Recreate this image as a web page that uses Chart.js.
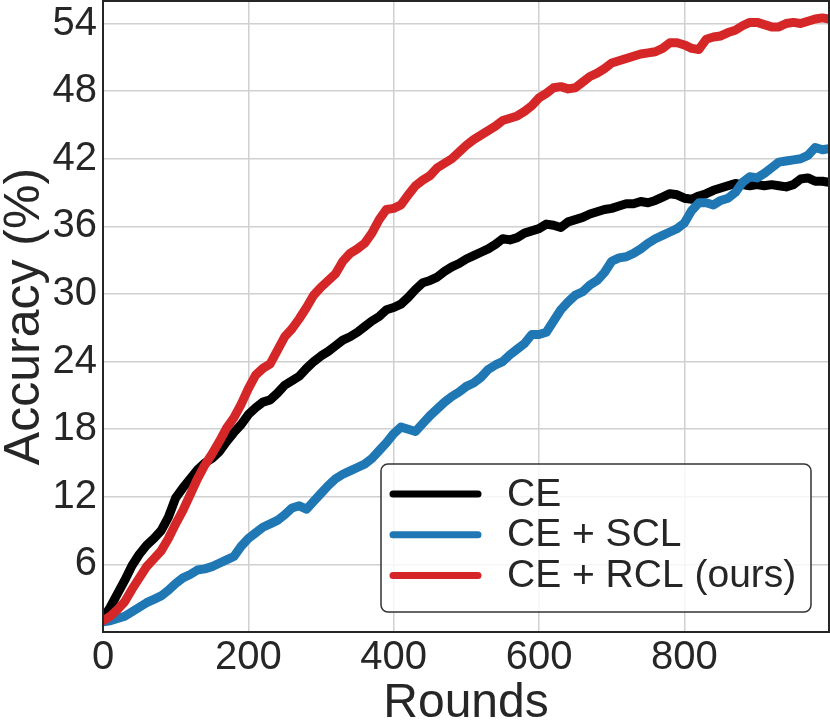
<!DOCTYPE html>
<html>
<head>
    <meta charset="UTF-8" />
    <title>Accuracy vs Rounds</title>
    <script src="https://cdn.jsdelivr.net/npm/chart.js"></script>
    <style>
        * { margin: 0; padding: 0; box-sizing: border-box; }
        body { background: #fff; }
        .chart-box { width: 830px; height: 728px; position: relative; }
    </style>
</head>
<body>

<div class="chart-box">
    <canvas id="accChart"></canvas>
</div>

<script>
    const rounds = [
        0, 10, 20, 30, 40, 50, 60, 70, 80, 90,
        100, 110, 120, 130, 140, 150, 160, 170, 180, 190,
        200, 210, 220, 230, 240, 250, 260, 270, 280, 290,
        300, 310, 320, 330, 340, 350, 360, 370, 380, 390,
        400, 410, 420, 430, 440, 450, 460, 470, 480, 490,
        500, 510, 520, 530, 540, 550, 560, 570, 580, 590,
        600, 610, 620, 630, 640, 650, 660, 670, 680, 690,
        700, 710, 720, 730, 740, 750, 760, 770, 780, 790,
        800, 810, 820, 830, 840, 850, 860, 870, 880, 890,
        900, 910, 920, 930, 940, 950, 960, 970, 980, 990, 999
    ];

    const ceAcc = [
        1.2, 2.2, 3.4, 4.6, 5.9, 6.9, 7.7, 8.3, 9.0, 10.2,
        11.9, 12.8, 13.6, 14.4, 15.0, 15.4, 16.0, 16.9, 17.7, 18.4,
        19.3, 19.9, 20.4, 20.6, 21.2, 21.9, 22.3, 22.7, 23.4, 24.0,
        24.5, 24.9, 25.4, 25.9, 26.2, 26.6, 27.1, 27.6, 28.0, 28.6,
        28.8, 29.1, 29.7, 30.4, 31.0, 31.2, 31.5, 32.0, 32.4, 32.7,
        33.1, 33.4, 33.7, 34.0, 34.4, 34.9, 34.8, 35.0, 35.4, 35.6,
        35.8, 36.2, 36.1, 35.9, 36.4, 36.6, 36.8, 37.1, 37.3, 37.5,
        37.6, 37.8, 38.0, 38.0, 38.2, 38.1, 38.3, 38.6, 38.9, 38.8,
        38.5, 38.4, 38.7, 38.9, 39.2, 39.4, 39.6, 39.8, 39.7, 39.6,
        39.7, 39.6, 39.7, 39.6, 39.5, 39.7, 40.2, 40.3, 40.0, 40.0, 39.9
    ];

    const sclAcc = [
        0.9, 1.0, 1.2, 1.4, 1.8, 2.2, 2.6, 2.9, 3.2, 3.7,
        4.3, 4.8, 5.1, 5.5, 5.6, 5.8, 6.1, 6.4, 6.7, 7.6,
        8.3, 8.8, 9.3, 9.6, 9.9, 10.4, 11.0, 11.2, 10.9, 11.6,
        12.3, 13.0, 13.6, 14.0, 14.3, 14.6, 14.9, 15.4, 16.1, 16.8,
        17.6, 18.2, 18.0, 17.8, 18.5, 19.2, 19.8, 20.4, 20.9, 21.3,
        21.8, 22.1, 22.6, 23.3, 23.7, 24.0, 24.6, 25.1, 25.6, 26.4,
        26.4, 26.6, 27.6, 28.6, 29.3, 29.9, 30.2, 30.8, 31.2, 31.9,
        32.9, 33.2, 33.3, 33.6, 34.0, 34.5, 34.9, 35.2, 35.5, 35.8,
        36.3, 37.4, 38.1, 38.1, 37.9, 38.3, 38.5, 39.0, 39.9, 40.4,
        40.3, 40.7, 41.2, 41.7, 41.8, 41.9, 42.0, 42.3, 43.0, 42.8, 42.9
    ];

    const rclAcc = [
        1.0, 1.4, 2.0, 2.7, 3.8, 4.8, 5.8, 6.5, 7.2, 8.3,
        9.6, 10.8, 12.2, 13.6, 14.8, 15.8, 16.9, 18.1, 19.0, 20.2,
        21.6, 22.8, 23.4, 23.8, 25.0, 26.2, 26.9, 27.8, 28.8, 29.9,
        30.6, 31.2, 31.8, 32.9, 33.6, 34.0, 34.5, 35.4, 36.6, 37.5,
        37.6, 37.9, 38.8, 39.6, 40.1, 40.5, 41.2, 41.6, 42.0, 42.6,
        43.2, 43.7, 44.1, 44.5, 44.9, 45.4, 45.6, 45.8, 46.2, 46.7,
        47.4, 47.8, 48.3, 48.4, 48.2, 48.3, 48.8, 49.3, 49.6, 50.0,
        50.5, 50.7, 50.9, 51.1, 51.3, 51.4, 51.5, 51.8, 52.3, 52.3,
        52.1, 51.8, 51.7, 52.6, 52.8, 52.9, 53.2, 53.4, 53.8, 54.1,
        54.1, 53.9, 53.7, 53.7, 54.0, 54.1, 54.0, 54.2, 54.4, 54.5, 54.4
    ];

    const xTicks = [0, 200, 400, 600, 800];
    const yTicks = [6, 12, 18, 24, 30, 36, 42, 48, 54];

    const FONT = "'Liberation Sans', Arial, sans-serif";
    const TEXT = '#262626';

    function toPoints(values) {
        return rounds.map((r, i) => ({ x: r, y: values[i] }));
    }

    function lineSet(label, color, values, order) {
        return {
            label: label,
            data: toPoints(values),
            borderColor: color,
            backgroundColor: color,
            borderWidth: 9,
            pointRadius: 0,
            tension: 0,
            borderJoinStyle: 'round',
            borderCapStyle: 'round',
            order: order
        };
    }

    // no extra room for half tick labels, the plot fills the canvas
    function noPad(scale) {
        scale.paddingTop = 0;
        scale.paddingBottom = 0;
        scale.paddingLeft = 0;
        scale.paddingRight = 0;
    }

    // frame on all four sides, like the matplotlib spines
    const framePlugin = {
        id: 'frame',
        afterDatasetsDraw(chart) {
            const { ctx, chartArea: a } = chart;
            ctx.save();
            ctx.strokeStyle = TEXT;
            ctx.lineWidth = 2;
            ctx.strokeRect(a.left, a.top, a.right - a.left, a.bottom - a.top);
            ctx.restore();
        }
    };

    // boxed legend in the lower right corner
    const legendPlugin = {
        id: 'boxLegend',
        afterDraw(chart) {
            const { ctx, chartArea: a } = chart;
            const w = 430, h = 148;
            const left = a.right - 18 - w;
            const top = a.bottom - 20 - h;
            ctx.save();
            ctx.beginPath();
            ctx.roundRect(left, top, w, h, 7);
            ctx.fillStyle = 'rgba(255,255,255,0.8)';
            ctx.fill();
            ctx.strokeStyle = '#333';
            ctx.lineWidth = 1.5;
            ctx.stroke();

            ctx.font = '39px ' + FONT;
            ctx.textBaseline = 'middle';
            ctx.textAlign = 'left';
            chart.data.datasets.forEach((ds, i) => {
                const y = top + 30 + i * 40.7;
                ctx.beginPath();
                ctx.moveTo(left + 12, y);
                ctx.lineTo(left + 97, y);
                ctx.strokeStyle = ds.borderColor;
                ctx.lineWidth = 7;
                ctx.lineCap = 'round';
                ctx.stroke();
                ctx.fillStyle = TEXT;
                ctx.fillText(ds.label, left + 126, y + 1);
            });
            ctx.restore();
        }
    };

    const ctx = document.getElementById('accChart').getContext('2d');
    new Chart(ctx, {
        type: 'line',
        data: {
            datasets: [
                lineSet('CE', '#000000', ceAcc, 3),
                lineSet('CE + SCL', '#1f77b4', sclAcc, 2),
                lineSet('CE + RCL (ours)', '#d62728', rclAcc, 1)
            ]
        },
        options: {
            responsive: true,
            maintainAspectRatio: false,
            animation: false,
            devicePixelRatio: 1,
            layout: { padding: { top: 1, right: 1, left: 0, bottom: 0 } },
            plugins: {
                legend: { display: false },
                tooltip: { enabled: false }
            },
            scales: {
                x: {
                    type: 'linear',
                    min: 0,
                    max: 999,
                    afterBuildTicks: scale => { scale.ticks = xTicks.map(v => ({ value: v })); },
                    afterFit: scale => { scale.height = 96; noPad(scale); },
                    grid: { color: '#d0d0d0', lineWidth: 1.5, drawTicks: false },
                    border: { display: false },
                    ticks: {
                        color: TEXT,
                        padding: 2,
                        maxRotation: 0,
                        font: { family: FONT, size: 40 }
                    },
                    title: {
                        display: true,
                        text: 'Rounds',
                        color: TEXT,
                        padding: { top: 0, bottom: 0 },
                        font: { family: FONT, size: 48, lineHeight: 1 }
                    }
                },
                y: {
                    min: 0,
                    max: 56,
                    afterBuildTicks: scale => { scale.ticks = yTicks.map(v => ({ value: v })); },
                    afterFit: scale => { scale.width = 103; noPad(scale); },
                    grid: { color: '#d0d0d0', lineWidth: 1.5, drawTicks: false },
                    border: { display: false },
                    ticks: {
                        color: TEXT,
                        padding: 6,
                        font: { family: FONT, size: 40 }
                    },
                    title: {
                        display: true,
                        text: 'Accuracy (%)',
                        color: TEXT,
                        padding: { top: 0, bottom: 0 },
                        font: { family: FONT, size: 50, lineHeight: 1 }
                    }
                }
            }
        },
        plugins: [framePlugin, legendPlugin]
    });
</script>

</body>
</html>
